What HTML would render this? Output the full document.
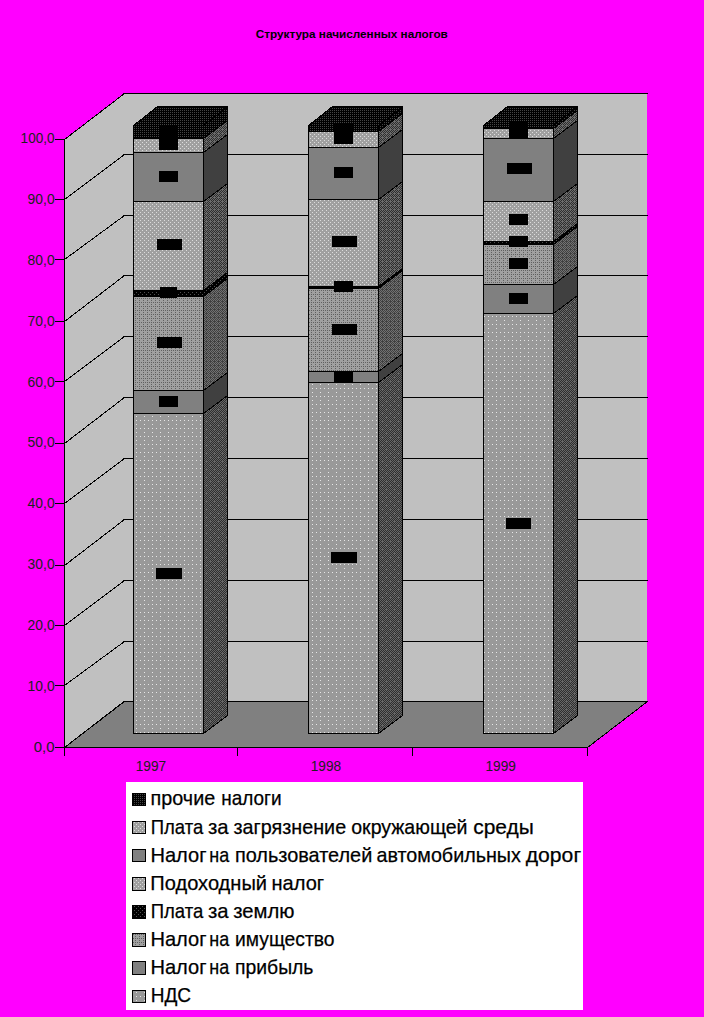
<!DOCTYPE html>
<html><head><meta charset="utf-8"><title>chart</title>
<style>html,body{margin:0;padding:0;background:#ff00ff;}body{width:704px;height:1017px;overflow:hidden;}svg{display:block;font-family:"Liberation Sans",sans-serif;}</style>
</head><body>
<svg width="704" height="1017" viewBox="0 0 704 1017">
<defs>
<pattern id="pBlk" width="2" height="2" patternUnits="userSpaceOnUse"><rect width="2" height="2" fill="#000000"/><rect x="0" y="0" width="1" height="1" fill="#444444"/></pattern>
<pattern id="pLight" width="4" height="4" patternUnits="userSpaceOnUse"><rect width="4" height="4" fill="#a0a0a0"/><rect x="0" y="0" width="1" height="1" fill="#dcdcdc"/><rect x="2" y="2" width="1" height="1" fill="#dcdcdc"/></pattern>
<pattern id="pZem" width="4" height="4" patternUnits="userSpaceOnUse"><rect width="4" height="4" fill="#000000"/><rect x="0" y="0" width="1" height="1" fill="#505050"/><rect x="2" y="2" width="1" height="1" fill="#505050"/></pattern>
<pattern id="pImu" width="4" height="4" patternUnits="userSpaceOnUse"><rect width="4" height="4" fill="#a0a0a0"/><rect x="1" y="2" width="1" height="1" fill="#606060"/><rect x="3" y="2" width="1" height="1" fill="#606060"/><rect x="3" y="0" width="1" height="1" fill="#606060"/></pattern>
<pattern id="pNds" width="8" height="8" patternUnits="userSpaceOnUse"><rect width="8" height="8" fill="#999999"/><rect x="0" y="4" width="1" height="1" fill="#e6e6e6"/><rect x="4" y="4" width="1" height="1" fill="#e6e6e6"/><rect x="0" y="0" width="1" height="1" fill="#e6e6e6"/></pattern>
<pattern id="pSide" width="4" height="4" patternUnits="userSpaceOnUse"><rect width="4" height="4" fill="#6c6c6c"/><rect x="1" y="0" width="1" height="1" fill="#2e2e2e"/><rect x="3" y="0" width="1" height="1" fill="#2e2e2e"/><rect x="0" y="1" width="1" height="1" fill="#2e2e2e"/><rect x="1" y="2" width="1" height="1" fill="#2e2e2e"/><rect x="3" y="2" width="1" height="1" fill="#2e2e2e"/><rect x="0" y="3" width="1" height="1" fill="#2e2e2e"/><rect x="2" y="3" width="1" height="1" fill="#2e2e2e"/></pattern>
<pattern id="pSideD" width="4" height="4" patternUnits="userSpaceOnUse"><rect width="4" height="4" fill="#404040"/><rect x="1" y="0" width="1" height="1" fill="#727272"/><rect x="3" y="0" width="1" height="1" fill="#727272"/><rect x="0" y="1" width="1" height="1" fill="#727272"/><rect x="1" y="2" width="1" height="1" fill="#727272"/><rect x="3" y="2" width="1" height="1" fill="#727272"/><rect x="0" y="3" width="1" height="1" fill="#727272"/><rect x="2" y="3" width="1" height="1" fill="#727272"/></pattern>
<pattern id="pSideN" width="8" height="8" patternUnits="userSpaceOnUse"><rect width="8" height="8" fill="#666666"/><rect x="1" y="0" width="1" height="1" fill="#2e2e2e"/><rect x="3" y="0" width="1" height="1" fill="#2e2e2e"/><rect x="5" y="0" width="1" height="1" fill="#2e2e2e"/><rect x="7" y="0" width="1" height="1" fill="#2e2e2e"/><rect x="0" y="1" width="1" height="1" fill="#2e2e2e"/><rect x="4" y="1" width="1" height="1" fill="#2e2e2e"/><rect x="6" y="1" width="1" height="1" fill="#2e2e2e"/><rect x="1" y="2" width="1" height="1" fill="#2e2e2e"/><rect x="3" y="2" width="1" height="1" fill="#2e2e2e"/><rect x="5" y="2" width="1" height="1" fill="#2e2e2e"/><rect x="7" y="2" width="1" height="1" fill="#2e2e2e"/><rect x="0" y="3" width="1" height="1" fill="#2e2e2e"/><rect x="2" y="3" width="1" height="1" fill="#2e2e2e"/><rect x="4" y="3" width="1" height="1" fill="#2e2e2e"/><rect x="6" y="3" width="1" height="1" fill="#2e2e2e"/><rect x="1" y="4" width="1" height="1" fill="#2e2e2e"/><rect x="3" y="4" width="1" height="1" fill="#2e2e2e"/><rect x="5" y="4" width="1" height="1" fill="#2e2e2e"/><rect x="7" y="4" width="1" height="1" fill="#2e2e2e"/><rect x="0" y="5" width="1" height="1" fill="#2e2e2e"/><rect x="2" y="5" width="1" height="1" fill="#2e2e2e"/><rect x="4" y="5" width="1" height="1" fill="#2e2e2e"/><rect x="1" y="6" width="1" height="1" fill="#2e2e2e"/><rect x="3" y="6" width="1" height="1" fill="#2e2e2e"/><rect x="5" y="6" width="1" height="1" fill="#2e2e2e"/><rect x="7" y="6" width="1" height="1" fill="#2e2e2e"/><rect x="0" y="7" width="1" height="1" fill="#2e2e2e"/><rect x="2" y="7" width="1" height="1" fill="#2e2e2e"/><rect x="4" y="7" width="1" height="1" fill="#2e2e2e"/><rect x="6" y="7" width="1" height="1" fill="#2e2e2e"/></pattern>
</defs>
<rect width="704" height="1017" fill="#ff00ff"/>
<g shape-rendering="crispEdges" stroke="#000" stroke-width="1">
<polygon points="64.5,139.5 124.5,93.5 124.5,701.5 64.5,747.5" fill="#c0c0c0" stroke="none"/>
<rect x="124" y="93.5" width="523" height="608" fill="#c0c0c0" stroke="none"/>
<polygon points="64.5,747.5 124,701.5 647.5,701.5 587.5,747.5" fill="#808080"/>
<line x1="64.5" y1="139.5" x2="124.5" y2="93.5"/><line x1="123" y1="93.5" x2="648" y2="93.5"/>
<line x1="64.5" y1="199.5" x2="124.5" y2="154.5"/><line x1="123" y1="154.5" x2="648" y2="154.5"/>
<line x1="64.5" y1="259.5" x2="124.5" y2="215.5"/><line x1="123" y1="215.5" x2="648" y2="215.5"/>
<line x1="64.5" y1="321.5" x2="124.5" y2="275.5"/><line x1="123" y1="275.5" x2="648" y2="275.5"/>
<line x1="64.5" y1="381.5" x2="124.5" y2="336.5"/><line x1="123" y1="336.5" x2="648" y2="336.5"/>
<line x1="64.5" y1="443.5" x2="124.5" y2="397.5"/><line x1="123" y1="397.5" x2="648" y2="397.5"/>
<line x1="64.5" y1="503.5" x2="124.5" y2="458.5"/><line x1="123" y1="458.5" x2="648" y2="458.5"/>
<line x1="64.5" y1="565.5" x2="124.5" y2="519.5"/><line x1="123" y1="519.5" x2="648" y2="519.5"/>
<line x1="64.5" y1="625.5" x2="124.5" y2="580.5"/><line x1="123" y1="580.5" x2="648" y2="580.5"/>
<line x1="64.5" y1="685.5" x2="124.5" y2="641.5"/><line x1="123" y1="641.5" x2="648" y2="641.5"/>
<line x1="64.5" y1="747.5" x2="124.5" y2="701.5"/><line x1="123" y1="701.5" x2="648" y2="701.5"/>
<rect x="133.5" y="413.5" width="70" height="320" fill="url(#pNds)"/>
<polygon points="203.5,413.5 227.5,395.5 227.5,715.5 203.5,733.5" fill="url(#pSideN)"/>
<rect x="133.5" y="390.5" width="70" height="23" fill="#808080"/>
<polygon points="203.5,390.5 227.5,372.5 227.5,395.5 203.5,413.5" fill="#404040"/>
<rect x="133.5" y="296.5" width="70" height="94" fill="url(#pImu)"/>
<polygon points="203.5,296.5 227.5,278.5 227.5,372.5 203.5,390.5" fill="url(#pSideD)"/>
<rect x="133.5" y="290.5" width="70" height="6" fill="url(#pZem)"/>
<polygon points="203.5,290.5 227.5,272.5 227.5,278.5 203.5,296.5" fill="url(#pZem)"/>
<rect x="133.5" y="201.5" width="70" height="89" fill="url(#pLight)"/>
<polygon points="203.5,201.5 227.5,183.5 227.5,272.5 203.5,290.5" fill="url(#pSide)"/>
<rect x="133.5" y="152.5" width="70" height="49" fill="#808080"/>
<polygon points="203.5,152.5 227.5,134.5 227.5,183.5 203.5,201.5" fill="#404040"/>
<rect x="133.5" y="138.5" width="70" height="14" fill="url(#pLight)"/>
<polygon points="203.5,138.5 227.5,120.5 227.5,134.5 203.5,152.5" fill="url(#pSide)"/>
<rect x="133.5" y="125.5" width="70" height="13" fill="url(#pBlk)"/>
<polygon points="203.5,125.5 227.5,107.5 227.5,120.5 203.5,138.5" fill="url(#pBlk)"/>
<polygon points="133.5,125.5 157.5,106.5 227.5,106.5 203.5,125.5" fill="url(#pBlk)"/>
<rect x="159" y="125" width="19" height="25" fill="#000" stroke="none"/>
<rect x="159" y="171" width="19" height="11" fill="#000" stroke="none"/>
<rect x="157" y="239" width="25" height="11" fill="#000" stroke="none"/>
<rect x="160" y="287" width="17" height="11" fill="#000" stroke="none"/>
<rect x="157" y="337" width="25" height="11" fill="#000" stroke="none"/>
<rect x="159" y="396" width="19" height="11" fill="#000" stroke="none"/>
<rect x="156" y="568" width="26" height="11" fill="#000" stroke="none"/>
<rect x="308.5" y="382.5" width="70" height="351" fill="url(#pNds)"/>
<polygon points="378.5,382.5 402.5,364.5 402.5,715.5 378.5,733.5" fill="url(#pSideN)"/>
<rect x="308.5" y="371.5" width="70" height="11" fill="#808080"/>
<polygon points="378.5,371.5 402.5,353.5 402.5,364.5 378.5,382.5" fill="#404040"/>
<rect x="308.5" y="288.5" width="70" height="83" fill="url(#pImu)"/>
<polygon points="378.5,288.5 402.5,270.5 402.5,353.5 378.5,371.5" fill="url(#pSideD)"/>
<rect x="308.5" y="286.5" width="70" height="2" fill="url(#pZem)"/>
<polygon points="378.5,286.5 402.5,268.5 402.5,270.5 378.5,288.5" fill="url(#pZem)"/>
<rect x="308.5" y="199.5" width="70" height="87" fill="url(#pLight)"/>
<polygon points="378.5,199.5 402.5,181.5 402.5,268.5 378.5,286.5" fill="url(#pSide)"/>
<rect x="308.5" y="147.5" width="70" height="52" fill="#808080"/>
<polygon points="378.5,147.5 402.5,129.5 402.5,181.5 378.5,199.5" fill="#404040"/>
<rect x="308.5" y="131.5" width="70" height="16" fill="url(#pLight)"/>
<polygon points="378.5,131.5 402.5,113.5 402.5,129.5 378.5,147.5" fill="url(#pSide)"/>
<rect x="308.5" y="125.5" width="70" height="6" fill="url(#pBlk)"/>
<polygon points="378.5,125.5 402.5,107.5 402.5,113.5 378.5,131.5" fill="url(#pBlk)"/>
<polygon points="308.5,125.5 332.5,106.5 402.5,106.5 378.5,125.5" fill="url(#pBlk)"/>
<rect x="334" y="123" width="19" height="21" fill="#000" stroke="none"/>
<rect x="334" y="167" width="19" height="11" fill="#000" stroke="none"/>
<rect x="332" y="236" width="25" height="11" fill="#000" stroke="none"/>
<rect x="334" y="281" width="19" height="11" fill="#000" stroke="none"/>
<rect x="332" y="324" width="25" height="11" fill="#000" stroke="none"/>
<rect x="334" y="371" width="19" height="11" fill="#000" stroke="none"/>
<rect x="331" y="552" width="26" height="11" fill="#000" stroke="none"/>
<rect x="483.5" y="313.5" width="70" height="420" fill="url(#pNds)"/>
<polygon points="553.5,313.5 577.5,295.5 577.5,715.5 553.5,733.5" fill="url(#pSideN)"/>
<rect x="483.5" y="284.5" width="70" height="29" fill="#808080"/>
<polygon points="553.5,284.5 577.5,266.5 577.5,295.5 553.5,313.5" fill="#404040"/>
<rect x="483.5" y="244.5" width="70" height="40" fill="url(#pImu)"/>
<polygon points="553.5,244.5 577.5,226.5 577.5,266.5 553.5,284.5" fill="url(#pSideD)"/>
<rect x="483.5" y="241.5" width="70" height="3" fill="url(#pZem)"/>
<polygon points="553.5,241.5 577.5,223.5 577.5,226.5 553.5,244.5" fill="url(#pZem)"/>
<rect x="483.5" y="201.5" width="70" height="40" fill="url(#pLight)"/>
<polygon points="553.5,201.5 577.5,183.5 577.5,223.5 553.5,241.5" fill="url(#pSide)"/>
<rect x="483.5" y="138.5" width="70" height="63" fill="#808080"/>
<polygon points="553.5,138.5 577.5,120.5 577.5,183.5 553.5,201.5" fill="#404040"/>
<rect x="483.5" y="128.5" width="70" height="10" fill="url(#pLight)"/>
<polygon points="553.5,128.5 577.5,110.5 577.5,120.5 553.5,138.5" fill="url(#pSide)"/>
<rect x="483.5" y="125.5" width="70" height="3" fill="url(#pBlk)"/>
<polygon points="553.5,125.5 577.5,107.5 577.5,110.5 553.5,128.5" fill="url(#pBlk)"/>
<polygon points="483.5,125.5 507.5,106.5 577.5,106.5 553.5,125.5" fill="url(#pBlk)"/>
<rect x="509" y="121" width="19" height="18" fill="#000" stroke="none"/>
<rect x="507" y="163" width="25" height="11" fill="#000" stroke="none"/>
<rect x="509" y="214" width="19" height="11" fill="#000" stroke="none"/>
<rect x="509" y="236" width="19" height="11" fill="#000" stroke="none"/>
<rect x="509" y="258" width="19" height="11" fill="#000" stroke="none"/>
<rect x="509" y="293" width="19" height="11" fill="#000" stroke="none"/>
<rect x="506" y="518" width="25" height="11" fill="#000" stroke="none"/>
<line x1="64.5" y1="139" x2="64.5" y2="756"/>
<line x1="55" y1="747.5" x2="588" y2="747.5"/>
<line x1="55" y1="139.5" x2="65" y2="139.5"/>
<line x1="55" y1="199.5" x2="65" y2="199.5"/>
<line x1="55" y1="259.5" x2="65" y2="259.5"/>
<line x1="55" y1="321.5" x2="65" y2="321.5"/>
<line x1="55" y1="381.5" x2="65" y2="381.5"/>
<line x1="55" y1="443.5" x2="65" y2="443.5"/>
<line x1="55" y1="503.5" x2="65" y2="503.5"/>
<line x1="55" y1="565.5" x2="65" y2="565.5"/>
<line x1="55" y1="625.5" x2="65" y2="625.5"/>
<line x1="55" y1="685.5" x2="65" y2="685.5"/>
<line x1="55" y1="747.5" x2="65" y2="747.5"/>
<line x1="64.5" y1="747" x2="64.5" y2="756"/>
<line x1="237.5" y1="747" x2="237.5" y2="756"/>
<line x1="412.5" y1="747" x2="412.5" y2="756"/>
<line x1="587.5" y1="747" x2="587.5" y2="756"/>
</g>
<g font-size="14" fill="#202020" text-anchor="end">
<text x="54.6" y="143.2" textLength="34" lengthAdjust="spacingAndGlyphs">100,0</text>
<text x="54.6" y="204.0" textLength="27" lengthAdjust="spacingAndGlyphs">90,0</text>
<text x="54.6" y="264.9" textLength="27" lengthAdjust="spacingAndGlyphs">80,0</text>
<text x="54.6" y="325.8" textLength="27" lengthAdjust="spacingAndGlyphs">70,0</text>
<text x="54.6" y="386.6" textLength="27" lengthAdjust="spacingAndGlyphs">60,0</text>
<text x="54.6" y="447.4" textLength="27" lengthAdjust="spacingAndGlyphs">50,0</text>
<text x="54.6" y="508.3" textLength="27" lengthAdjust="spacingAndGlyphs">40,0</text>
<text x="54.6" y="569.1" textLength="27" lengthAdjust="spacingAndGlyphs">30,0</text>
<text x="54.6" y="630.0" textLength="27" lengthAdjust="spacingAndGlyphs">20,0</text>
<text x="54.6" y="690.8" textLength="27" lengthAdjust="spacingAndGlyphs">10,0</text>
<text x="54.6" y="751.7" textLength="20.8" lengthAdjust="spacingAndGlyphs">0,0</text>
</g>
<g font-size="14" fill="#202020" text-anchor="middle">
<text x="150.9" y="771" textLength="30.5" lengthAdjust="spacingAndGlyphs">1997</text>
<text x="326.0" y="771" textLength="30.5" lengthAdjust="spacingAndGlyphs">1998</text>
<text x="500.7" y="771" textLength="30.5" lengthAdjust="spacingAndGlyphs">1999</text>
</g>
<text x="351.8" y="37.9" font-size="11" font-weight="bold" text-anchor="middle" fill="#000" textLength="192" lengthAdjust="spacingAndGlyphs">Структура начисленных налогов</text>
<rect x="126" y="782" width="457" height="228" fill="#fff"/>
<g font-size="21" fill="#000" stroke="#000" stroke-width="0.25">
<rect x="132.5" y="793.5" width="13" height="12" fill="url(#pBlk)" stroke="#000" stroke-width="1" shape-rendering="crispEdges"/>
<text x="150.59" y="805" textLength="64.63" lengthAdjust="spacingAndGlyphs">прочие</text>
<text x="221.24" y="805" textLength="60.36" lengthAdjust="spacingAndGlyphs">налоги</text>
<rect x="132.5" y="821.5" width="13" height="12" fill="url(#pLight)" stroke="#000" stroke-width="1" shape-rendering="crispEdges"/>
<text x="150.76" y="834" textLength="52.53" lengthAdjust="spacingAndGlyphs">Плата</text>
<text x="207.91" y="834" textLength="20.61" lengthAdjust="spacingAndGlyphs">за</text>
<text x="233.51" y="834" textLength="112.63" lengthAdjust="spacingAndGlyphs">загрязнение</text>
<text x="351.26" y="834" textLength="116.27" lengthAdjust="spacingAndGlyphs">окружающей</text>
<text x="473.22" y="834" textLength="60.60" lengthAdjust="spacingAndGlyphs">среды</text>
<rect x="132.5" y="849.5" width="13" height="12" fill="#808080" stroke="#000" stroke-width="1" shape-rendering="crispEdges"/>
<text x="150.45" y="862" textLength="56.04" lengthAdjust="spacingAndGlyphs">Налог</text>
<text x="209.36" y="862" textLength="19.93" lengthAdjust="spacingAndGlyphs">на</text>
<text x="234.96" y="862" textLength="137.35" lengthAdjust="spacingAndGlyphs">пользователей</text>
<text x="376.50" y="862" textLength="144.42" lengthAdjust="spacingAndGlyphs">автомобильных</text>
<text x="525.76" y="862" textLength="55.35" lengthAdjust="spacingAndGlyphs">дорог</text>
<rect x="132.5" y="877.5" width="13" height="13" fill="url(#pLight)" stroke="#000" stroke-width="1" shape-rendering="crispEdges"/>
<text x="150.36" y="890" textLength="116.64" lengthAdjust="spacingAndGlyphs">Подоходный</text>
<text x="271.50" y="890" textLength="52.63" lengthAdjust="spacingAndGlyphs">налог</text>
<rect x="132.5" y="905.5" width="13" height="13" fill="url(#pZem)" stroke="#000" stroke-width="1" shape-rendering="crispEdges"/>
<text x="150.76" y="918" textLength="52.53" lengthAdjust="spacingAndGlyphs">Плата</text>
<text x="207.91" y="918" textLength="20.61" lengthAdjust="spacingAndGlyphs">за</text>
<text x="233.26" y="918" textLength="61.20" lengthAdjust="spacingAndGlyphs">землю</text>
<rect x="132.5" y="933.5" width="13" height="13" fill="url(#pImu)" stroke="#000" stroke-width="1" shape-rendering="crispEdges"/>
<text x="150.45" y="946" textLength="56.04" lengthAdjust="spacingAndGlyphs">Налог</text>
<text x="209.36" y="946" textLength="19.93" lengthAdjust="spacingAndGlyphs">на</text>
<text x="235.03" y="946" textLength="99.49" lengthAdjust="spacingAndGlyphs">имущество</text>
<rect x="132.5" y="961.5" width="13" height="13" fill="#808080" stroke="#000" stroke-width="1" shape-rendering="crispEdges"/>
<text x="150.45" y="974" textLength="56.04" lengthAdjust="spacingAndGlyphs">Налог</text>
<text x="209.36" y="974" textLength="19.93" lengthAdjust="spacingAndGlyphs">на</text>
<text x="235.02" y="974" textLength="78.44" lengthAdjust="spacingAndGlyphs">прибыль</text>
<rect x="132.5" y="990.5" width="13" height="12" fill="url(#pNds)" stroke="#000" stroke-width="1" shape-rendering="crispEdges"/>
<text x="150.63" y="1002" textLength="40.43" lengthAdjust="spacingAndGlyphs">НДС</text>
</g>
</svg></body></html>
